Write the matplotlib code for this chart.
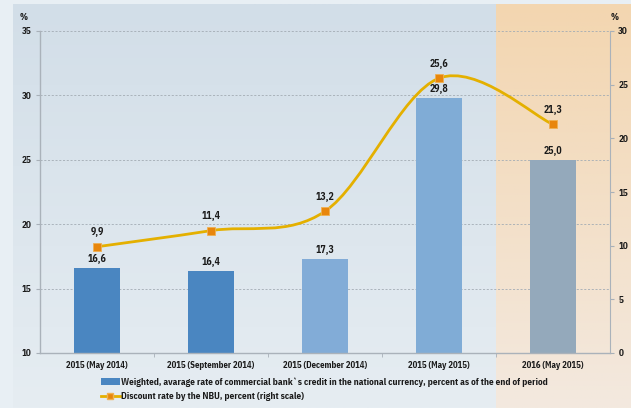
import numpy as np
import matplotlib
matplotlib.use("Agg")
import matplotlib.pyplot as plt
from matplotlib.path import Path
from matplotlib.patches import PathPatch, Patch
from matplotlib.lines import Line2D
from matplotlib.colors import LinearSegmentedColormap
import logging
logging.getLogger("matplotlib.font_manager").setLevel(logging.ERROR)

plt.rcParams['font.family'] = ['IBM Plex Sans Condensed', 'Liberation Sans', 'DejaVu Sans']

categories = ["2015 (May 2014)", "2015 (September 2014)", "2015 (December 2014)",
              "2015 (May 2015)", "2016 (May 2015)"]
credit_rate = [16.6, 16.4, 17.3, 29.8, 25.0]
discount_rate = [9.9, 11.4, 13.2, 25.6, 21.3]
bar_colors = ["#4a86c1", "#4a86c1", "#82acd7", "#80acd6", "#94a9bb"]
left_ticks = [10, 15, 20, 25, 30, 35]
right_ticks = [0, 5, 10, 15, 20, 25, 30]
legend_bar = "Weighted, avarage rate of commercial bank`s credit in the national currency, percent as of the end of period"
legend_line = "Discount rate by the NBU, percent (right scale)"

W, H = 631, 408
fig = plt.figure(figsize=(W / 100, H / 100), dpi=100)
fig.patch.set_facecolor("#e8eff4")

# background panel with gradients
bg = fig.add_axes([0, 0, 1, 1], zorder=-5)
bg.axis("off")
grad = np.linspace(0, 1, 256).reshape(-1, 1)
cmap_blue = LinearSegmentedColormap.from_list("b", ["#d2dee8", "#e6edf2"])
cmap_or = LinearSegmentedColormap.from_list("o", ["#f3d6b0", "#f3e9df"])
bg.imshow(grad, cmap=cmap_blue, aspect="auto", extent=[13, 496, H, 4], zorder=0)
bg.imshow(grad, cmap=cmap_or, aspect="auto", extent=[496, W, H, 4], zorder=0)
bg.set_xlim(0, W)
bg.set_ylim(H, 0)

x0, x1 = 40, 610
y0, y1 = 353, 31
ax = fig.add_axes([x0 / W, 1 - y0 / H, (x1 - x0) / W, (y0 - y1) / H])
ax.set_facecolor("none")
xs = np.arange(len(categories))
ax.set_xlim(-0.5, len(categories) - 0.5)

for yt in left_ticks[1:]:
    ax.axhline(yt, color="#a3acb4", lw=0.6, ls=(0, (2.5, 2)), zorder=1)

ax.bar(xs, credit_rate, width=0.4, color=bar_colors, zorder=2)
ax.set_ylim(10, 35)

for x, v in zip(xs, credit_rate):
    ax.text(x, v + 0.3, f"{v:.1f}".replace(".", ","), ha="center", va="bottom",
            fontsize=7.0, fontweight="bold", color="#1a1a1a", zorder=5)

ax.set_yticks(left_ticks)
ax.set_xticks(xs)
ax.set_xticklabels(categories)
ax.set_xticks(np.arange(0.5, len(categories) - 0.5, 1), minor=True)
ax.tick_params(axis="x", which="major", length=0, pad=6, labelsize=6.3, labelcolor="#1a1a1a")
ax.tick_params(axis="x", which="minor", length=3, color="#a8b0b8", direction="out")
ax.tick_params(axis="y", length=3, color="#a8b0b8", labelsize=6.6, labelcolor="#1a1a1a", pad=3)
for lbl in ax.get_xticklabels() + ax.get_yticklabels():
    lbl.set_fontweight("bold")
for s in ["top", "right"]:
    ax.spines[s].set_visible(False)
for s in ["left", "bottom"]:
    ax.spines[s].set_color("#aab2ba")
    ax.spines[s].set_linewidth(1.0)

ax2 = ax.twinx()
ax2.set_ylim(0, 30)
ax2.set_yticks(right_ticks)
ax2.tick_params(axis="y", length=3, color="#a8b0b8", labelsize=6.6, labelcolor="#1a1a1a", pad=3)
for lbl in ax2.get_yticklabels():
    lbl.set_fontweight("bold")
for s in ["top", "left", "bottom"]:
    ax2.spines[s].set_visible(False)
ax2.spines["right"].set_color("#aab2ba")

# smooth (Catmull-Rom -> Bezier) line through the data points
pts = np.column_stack([xs, discount_rate]).astype(float)
verts = [tuple(pts[0])]
codes = [Path.MOVETO]
n = len(pts)
for i in range(n - 1):
    p0 = pts[max(i - 1, 0)]
    p1 = pts[i]
    p2 = pts[i + 1]
    p3 = pts[min(i + 2, n - 1)]
    c1 = p1 + (p2 - p0) / 6.0
    c2 = p2 - (p3 - p1) / 6.0
    verts += [tuple(c1), tuple(c2), tuple(p2)]
    codes += [Path.CURVE4] * 3
ax2.add_patch(PathPatch(Path(verts, codes), facecolor="none", edgecolor="#e4b000",
                        lw=2.0, zorder=3, capstyle="round"))
ax2.plot(xs, discount_rate, ls="none", marker="s", ms=6, mfc="#e8860c",
         mec="#f0b050", mew=0.6, zorder=4)
for x, v in zip(xs, discount_rate):
    ax2.text(x, v + 0.9, f"{v:.1f}".replace(".", ","), ha="center", va="bottom",
             fontsize=7.0, fontweight="bold", color="#1a1a1a", zorder=5)

fig.text(24 / W, 1 - 18 / H, "%", fontsize=6.6, fontweight="bold", ha="center", va="center", color="#1a1a1a")
fig.text(615 / W, 1 - 18 / H, "%", fontsize=6.6, fontweight="bold", ha="center", va="center", color="#1a1a1a")

handles = [Patch(facecolor="#4a86c1", edgecolor="none"),
           Line2D([0], [0], color="#e4b000", lw=2.0, marker="s", ms=5, mfc="#e8860c", mec="#f0b050")]
leg = fig.legend(handles, [legend_bar, legend_line], loc="upper left",
                 bbox_to_anchor=(101 / W, 1 - 377 / H), frameon=False,
                 fontsize=6.7, handlelength=2.0, handletextpad=0.1, labelspacing=0.6,
                 borderpad=0, borderaxespad=0)
for t in leg.get_texts():
    t.set_fontweight("bold")
    t.set_color("#1a1a1a")

fig.savefig("out.png", dpi=100, facecolor=fig.get_facecolor())
